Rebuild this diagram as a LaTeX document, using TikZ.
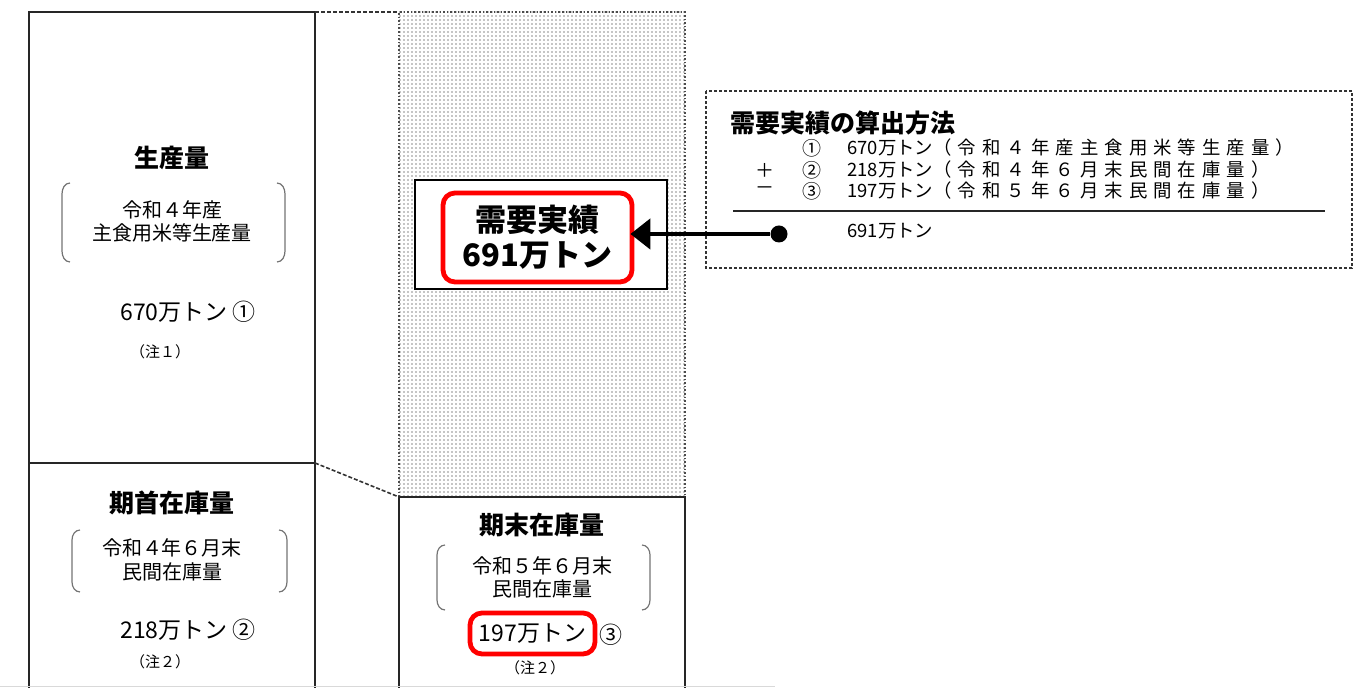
\documentclass[tikz,border=0pt]{standalone}
\usepackage{fontspec}
\setmainfont{Noto Sans CJK JP}
\newfontfamily\rowspace{Noto Sans CJK JP}[LetterSpace=33]
\usetikzlibrary{arrows.meta, patterns.meta}

\tikzdeclarepattern{
  name=stipple,
  type=uncolored,
  bottom left={(-1pt,-1pt)},
  top right={(1pt,1pt)},
  tile size={(2pt,2pt)},
  code={\fill (0pt,0pt) circle (0.4pt);}
}

\begin{document}
\begin{tikzpicture}[x=0.5pt, y=-0.5pt,
    every node/.style={inner sep=0pt, align=center},
    colline/.style={line width=0.9pt, black!85},
    shadeedge/.style={line width=0.8pt, densely dotted, black!70},
    guide/.style={line width=0.8pt, dash pattern=on 2pt off 1pt, black!80},
    dashbox/.style={line width=0.6pt, dash pattern=on 1.5pt off 1pt, black!80},
    bracket/.style={line width=0.6pt, black!55},
    title/.style={font=\bfseries\fontsize{12.5}{15}\selectfont},
    sub/.style={font=\fontsize{10}{11.8}\selectfont},
    amount/.style={font=\fontsize{11.5}{13}\selectfont},
    note/.style={font=\fontsize{7.5}{8.5}\selectfont},
    redbox/.style={draw=red, line width=2.4pt, rounded corners=6pt},
    demandbox/.style={draw, fill=white, line width=1.4pt, minimum width=126pt, minimum height=54.5pt},
    bigtext/.style={font=\bfseries\fontsize{15.5}{17.5}\selectfont},
    methodtitle/.style={anchor=west, font=\bfseries\fontsize{12.5}{15}\selectfont},
    rowmark/.style={font=\fontsize{9.5}{11}\selectfont},
    rowtext/.style={anchor=west, font=\fontsize{9.2}{11}\selectfont},
    rule/.style={line width=0.8pt, black!85},
    dot/.style={circle, fill=black, minimum size=8.5pt},
    pointer/.style={line width=2.3pt, -{Triangle[length=10pt, width=15pt]}, shorten >=-2pt}]
    \useasboundingbox (0,0) rectangle (1362,688);

    % columns
    \fill[pattern=stipple, pattern color=black!45] (399,12) rectangle (685,497);
    \draw[shadeedge] (399,497) -- (399,12) -- (685,12) -- (685,497);
    \draw[colline] (29,688) -- (29,12) -- (315,12) -- (315,688);
    \draw[colline] (29,463) -- (315,463);
    \draw[colline] (399,688) -- (399,497) -- (685,497) -- (685,688);
    \draw[guide] (315,12) -- (399,12);
    \draw[guide] (315,463) -- (399,497);
    \draw[black!15, line width=0.5pt] (0,687) -- (775,687);

    % production
    \node[title] (prod) at (172,158) {生産量};
    \draw[bracket] (70,183) to[out=180, in=90] (62,194) -- (62,251) to[out=-90, in=180] (70,262);
    \draw[bracket] (277,183) to[out=0, in=90] (285,194) -- (285,251) to[out=-90, in=0] (277,262);
    \node[sub] (prodsub) at (172,221.5) {令和４年産\\主食用米等生産量};
    \node[amount] (prodval) at (188,312) {670万トン ①};
    \node[note] (prodnote) at (160,352) {（注１）};

    % opening stock
    \node[title] (open) at (172,503) {期首在庫量};
    \draw[bracket] (80,530) to[out=180, in=90] (72,540) -- (72,582) to[out=-90, in=180] (80,592);
    \draw[bracket] (279,530) to[out=0, in=90] (287,540) -- (287,582) to[out=-90, in=0] (279,592);
    \node[sub] (opensub) at (172,560) {令和４年６月末\\民間在庫量};
    \node[amount] (openval) at (188,630) {218万トン ②};
    \node[note] (opennote) at (160,662) {（注２）};

    % closing stock
    \node[title] (close) at (542,525) {期末在庫量};
    \draw[bracket] (445,545) to[out=180, in=90] (437,555) -- (437,600) to[out=-90, in=180] (445,610);
    \draw[bracket] (642,545) to[out=0, in=90] (650,555) -- (650,600) to[out=-90, in=0] (642,610);
    \node[sub] (closesub) at (542,577.5) {令和５年６月末\\民間在庫量};
    \node[amount, redbox, minimum width=62.5pt, minimum height=20.5pt] (closeval) at (532.5,633.5) {197万トン};
    \node[amount] (closeno) at (611,635) {③};
    \node[note] (closenote) at (535,668) {（注２）};

    % demand
    \node[demandbox] (demand) at (541,234.5) {};
    \node[bigtext, redbox, minimum width=94.5pt, minimum height=44.5pt] (result) at (537.5,237.5) {需要実績\\691万トン};

    % method
    \draw[dashbox] (706,91) rectangle (1352,268);
    \node[methodtitle] (method) at (730,123) {需要実績の算出方法};
    \node[rowmark] (no1) at (812,148) {①};
    \node[rowtext] (line1) at (847,148) {670万トン{\rowspace（令和４年産主食用米等生産量）}};
    \node[rowmark] (plus) at (765,170) {＋};
    \node[rowmark] (no2) at (812,170) {②};
    \node[rowtext] (line2) at (847,170) {218万トン{\rowspace（令和４年６月末民間在庫量）}};
    \node[rowmark] (minus) at (765,191) {－};
    \node[rowmark] (no3) at (812,191) {③};
    \node[rowtext] (line3) at (847,191) {197万トン{\rowspace（令和５年６月末民間在庫量）}};
    \draw[rule] (733,211) -- (1325,211);
    \node[rowtext] (total) at (847,231) {691万トン};

    \node[dot] (src) at (779,234) {};
    \draw[pointer] (src) -- (src -| result.east);
\end{tikzpicture}
\end{document}
